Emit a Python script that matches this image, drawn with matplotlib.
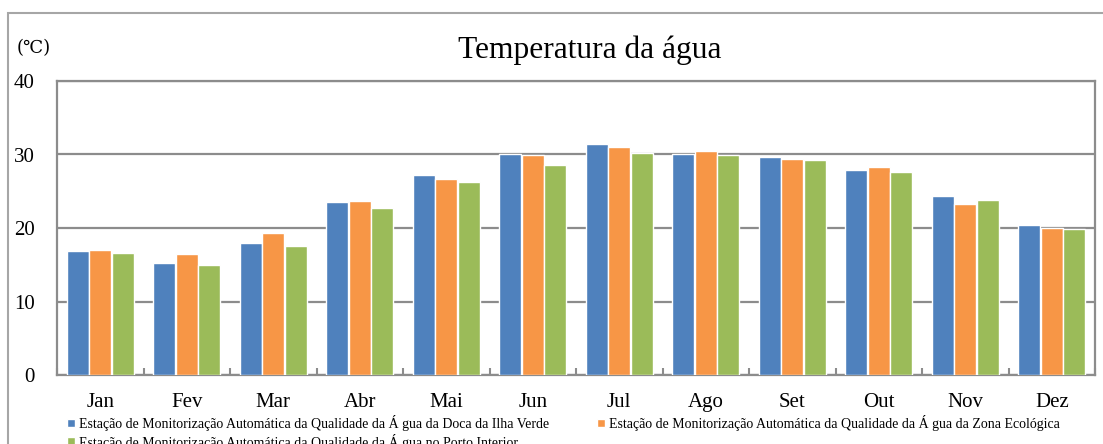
import numpy as np
import matplotlib
matplotlib.use("Agg")
import matplotlib.pyplot as plt
from matplotlib.patches import Rectangle

plt.rcParams['font.family'] = ['Liberation Serif', 'DejaVu Serif']

months = ['Jan', 'Fev', 'Mar', 'Abr', 'Mai', 'Jun', 'Jul', 'Ago', 'Set', 'Out', 'Nov', 'Dez']
ilha_verde = [16.9, 15.2, 17.9, 23.5, 27.2, 30.0, 31.4, 30.1, 29.7, 27.9, 24.3, 20.4]
zona_ecologica = [17.0, 16.4, 19.3, 23.7, 26.7, 29.9, 31.0, 30.5, 29.4, 28.3, 23.2, 20.0]
porto_interior = [16.6, 15.0, 17.6, 22.7, 26.3, 28.6, 30.2, 29.9, 29.2, 27.6, 23.8, 19.9]

labels = [
    'Estação de Monitorização Automática da Qualidade da Á gua da Doca da Ilha Verde',
    'Estação de Monitorização Automática da Qualidade da Á gua da Zona Ecológica',
    'Estação de Monitorização Automática da Qualidade da Á gua no Porto Interior',
]
colors = ['#4F81BD', '#F79646', '#9BBB59']

fig = plt.figure(figsize=(11.03, 4.44), dpi=100)
ax = fig.add_axes([57 / 1103, 1 - 375 / 444, 1038 / 1103, 294 / 444])

x = np.arange(len(months))
w = 0.25
series = [ilha_verde, zona_ecologica, porto_interior]
bars = []
for i, (vals, c) in enumerate(zip(series, colors)):
    b = ax.bar(x + (i - 1) * (w + 0.01), vals, w, color=c, edgecolor='white',
               linewidth=1.0, zorder=3, label=labels[i])
    bars.append(b)

ax.set_xlim(-0.5, len(months) - 0.5)
ax.set_ylim(0, 40)
ax.set_yticks([0, 10, 20, 30, 40])
ax.yaxis.grid(True, color='#8c8c8c', linewidth=1.6, zorder=0)
ax.set_axisbelow(True)
for s in ax.spines.values():
    s.set_color('#8c8c8c')
    s.set_linewidth(1.6)

ax.set_xticks(x)
ax.set_xticklabels(months, fontsize=15)
ax.tick_params(axis='x', length=0, pad=13)
ax.set_xticks(np.arange(-0.5, len(months)), minor=True)
ax.tick_params(axis='x', which='minor', direction='in', length=5, color='#8c8c8c', width=1.5)
ax.tick_params(axis='y', length=0, labelsize=15, pad=16)

fig.text(590 / 1103, 1 - 50 / 444, 'Temperatura da água', fontsize=22.7, ha='center', va='center')
fig.text(17 / 1103, 1 - 48 / 444, '(℃)', fontsize=13, ha='left', va='center',
         family=['DejaVu Serif'])

h = [bars[0], bars[2], bars[1]]
l = [labels[0], labels[2], labels[1]]
fig.legend(h, l, loc='upper left', bbox_to_anchor=(60 / 1103, 1 - 408 / 444), ncol=2,
           frameon=False, fontsize=10, handlelength=0.6, handleheight=0.6,
           handletextpad=0.3, columnspacing=3.4, labelspacing=0.2, borderpad=0)

fig.patches.append(Rectangle((8 / 1103, -0.1), 1.2, 1.1 - 13 / 444, transform=fig.transFigure,
                             fill=False, edgecolor='#a6a6a6', linewidth=1.5))

fig.savefig('out.png', dpi=100)
